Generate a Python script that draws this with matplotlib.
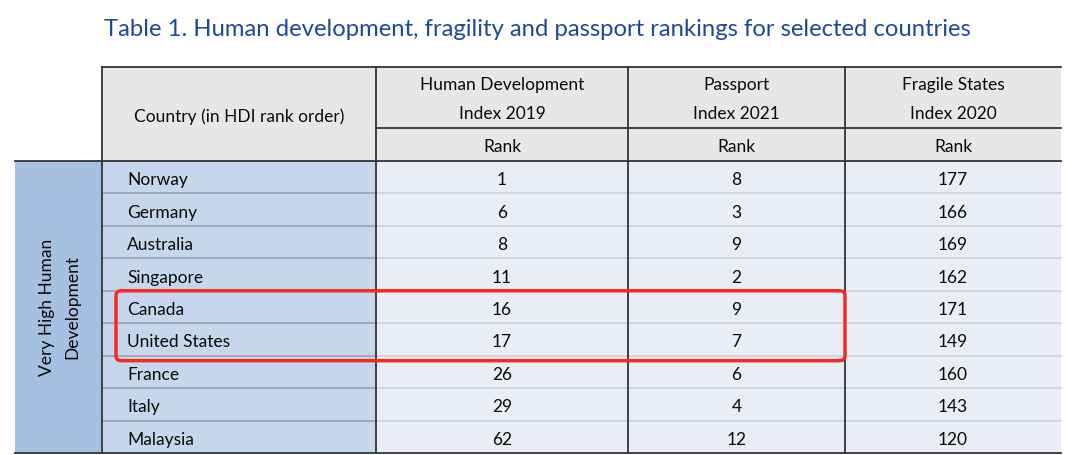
import matplotlib
matplotlib.use("Agg")
import matplotlib.pyplot as plt
from matplotlib.patches import Rectangle, FancyBboxPatch

# table contents
countries = ["Norway", "Germany", "Australia", "Singapore", "Canada",
             "United States", "France", "Italy", "Malaysia"]
hdi_rank = [1, 6, 8, 11, 16, 17, 26, 29, 62]
passport_rank = [8, 3, 9, 2, 9, 7, 6, 4, 12]
fragile_rank = [177, 166, 169, 162, 171, 149, 160, 143, 120]
col_headers = ["Human Development\nIndex 2019", "Passport\nIndex 2021",
               "Fragile States\nIndex 2020"]
sub_header = "Rank"
country_header = "Country (in HDI rank order)"
group_label = "Very High Human\nDevelopment"
title = "Table 1. Human development, fragility and passport rankings for selected countries"
highlight = ["Canada", "United States"]

# layout in pixels
W, H = 1080, 455
band_x0, band_x1 = 15, 102
col_edges = [102, 376, 628, 845, 1061]
top_y, sub_y, head_y = 67, 128, 161
row_h = (453 - head_y) / len(countries)

title_col = "#1b4b98"
head_bg = "#e6e7e9"
country_bg = "#c6d6ec"
band_bg = "#a6c0e2"
cell_bg = "#e8edf6"
dark = "#333333"
red = "#f42a1c"
txt = "#0a0a0a"
fs = 12.5

plt.rcParams['font.family'] = ['Lato', 'DejaVu Sans']

fig = plt.figure(figsize=(W / 100, H / 100), dpi=100)
ax = fig.add_axes([0, 0, 1, 1])
ax.set_xlim(0, W)
ax.set_ylim(H, 0)
ax.axis("off")

ax.text(537, 30, title, color=title_col, fontsize=17.2, ha="center", va="center")

# header backgrounds
ax.add_patch(Rectangle((col_edges[0], top_y), col_edges[-1] - col_edges[0], head_y - top_y,
                       facecolor=head_bg, edgecolor="none"))
ax.text((col_edges[0] + col_edges[1]) / 2, (top_y + head_y) / 2 + 3, country_header,
        fontsize=fs, ha="center", va="center", color=txt)
for i, h in enumerate(col_headers):
    cx = (col_edges[i + 1] + col_edges[i + 2]) / 2
    ax.text(cx, (top_y + sub_y) / 2 + 2, h, fontsize=fs, ha="center", va="center",
            linespacing=1.95, color=txt)
    ax.text(cx, (sub_y + head_y) / 2 + 2, sub_header, fontsize=fs, ha="center",
            va="center", color=txt)

# body
n = len(countries)
body_bottom = head_y + n * row_h
ax.add_patch(Rectangle((band_x0, head_y), band_x1 - band_x0, body_bottom - head_y,
                       facecolor=band_bg, edgecolor="none"))
ax.text((band_x0 + band_x1) / 2 + 1, (head_y + body_bottom) / 2, group_label, rotation=90,
        fontsize=fs, ha="center", va="center", linespacing=1.7, color=txt)
ax.add_patch(Rectangle((col_edges[0], head_y), col_edges[1] - col_edges[0],
                       body_bottom - head_y, facecolor=country_bg, edgecolor="none"))
ax.add_patch(Rectangle((col_edges[1], head_y), col_edges[-1] - col_edges[1],
                       body_bottom - head_y, facecolor=cell_bg, edgecolor="none"))

for r, name in enumerate(countries):
    yc = head_y + (r + 0.5) * row_h + 3
    ax.text(col_edges[0] + 25, yc, name, fontsize=fs, ha="left", va="center", color=txt)
    for j, vals in enumerate([hdi_rank, passport_rank, fragile_rank]):
        ax.text((col_edges[j + 1] + col_edges[j + 2]) / 2, yc, str(vals[r]), fontsize=fs,
                ha="center", va="center", color=txt)
    if r > 0:
        y = head_y + r * row_h
        ax.plot([col_edges[0], col_edges[1]], [y, y], color="#9aa3ae", lw=1.2)
        ax.plot([col_edges[1], col_edges[-1]], [y, y], color="#cfd2d6", lw=1.2)

# rules
ax.plot([col_edges[0], col_edges[-1]], [top_y, top_y], color=dark, lw=1.3)
ax.plot([col_edges[1], col_edges[-1]], [sub_y, sub_y], color=dark, lw=1.3)
ax.plot([band_x0, col_edges[-1]], [head_y, head_y], color=dark, lw=1.3)
ax.plot([band_x0, col_edges[-1]], [body_bottom, body_bottom], color=dark, lw=1.3)
for x in col_edges[:-1]:
    ax.plot([x, x], [top_y, body_bottom], color=dark, lw=1.3)

# highlight box
r0 = countries.index(highlight[0])
r1 = countries.index(highlight[-1])
hy0 = head_y + r0 * row_h
hy1 = head_y + (r1 + 1) * row_h + 5
ax.add_patch(FancyBboxPatch((116, hy0), col_edges[3] - 116, hy1 - hy0,
                            boxstyle="round,pad=0,rounding_size=5",
                            facecolor="none", edgecolor=red, lw=2.5, zorder=5))

fig.savefig("out.png", dpi=100)
